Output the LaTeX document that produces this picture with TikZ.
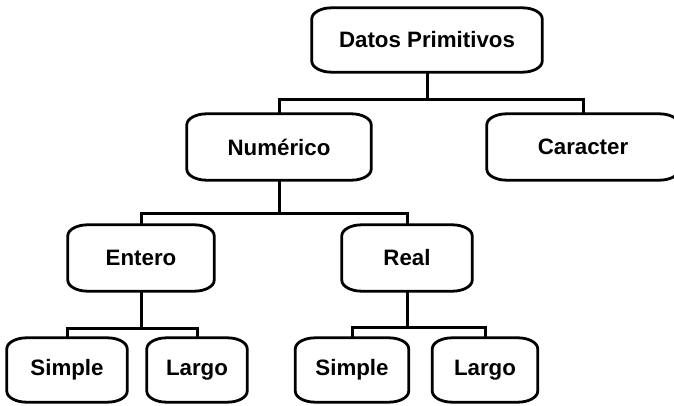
\documentclass[tikz,border=0pt]{standalone}
\usepackage{fontspec}
\setmainfont{Liberation Sans}
\newcommand\crx{20pt}
\newcommand\cry{11pt}
\newcommand\roundbox[1]{%
  \draw[boxline] ([xshift=\crx]#1.north west) -- ([xshift=-\crx]#1.north east)
    arc[start angle=90, end angle=0, x radius=\crx, y radius=\cry]
    -- ([yshift=\cry]#1.south east)
    arc[start angle=0, end angle=-90, x radius=\crx, y radius=\cry]
    -- ([xshift=\crx]#1.south west)
    arc[start angle=270, end angle=180, x radius=\crx, y radius=\cry]
    -- ([yshift=-\cry]#1.north west)
    arc[start angle=180, end angle=90, x radius=\crx, y radius=\cry] -- cycle;}
\tikzset{
  boxline/.style={line width=2.8pt, black},
  conn/.style={line width=3pt, black},
  lbl/.style={inner sep=0pt, font=\bfseries\fontsize{22.3}{24}\selectfont},
}
\begin{document}
\begin{tikzpicture}[x=1pt, y=-1pt]
\useasboundingbox (0,0) rectangle (674,406);
\clip (0,0) rectangle (674,406);
\fill[white] (0,0) rectangle (674,406);
\node[lbl, minimum width=230pt, minimum height=64pt] (dp) at (427,40) {Datos Primitivos};
\node[lbl, minimum width=184pt, minimum height=66pt] (num) at (279,147) {Numérico};
\node[lbl, minimum width=192pt, minimum height=66pt] (car) at (583,147) {Caracter};
\node[lbl, minimum width=146pt, minimum height=66pt] (ent) at (141,258) {Entero};
\node[lbl, minimum width=130pt, minimum height=66pt] (real) at (407,258) {Real};
\node[lbl, minimum width=120pt, minimum height=64pt] (s1) at (67,370) {Simple};
\node[lbl, minimum width=100pt, minimum height=64pt] (l1) at (197,370) {Largo};
\node[lbl, minimum width=113pt, minimum height=64pt] (s2) at (352,370) {Simple};
\node[lbl, minimum width=105pt, minimum height=64pt] (l2) at (485,370) {Largo};
\foreach \n in {dp,num,car,ent,real,s1,l1,s2,l2} {\roundbox{\n}}
\coordinate (j1) at (427,100);
\coordinate (j2) at (279,213);
\coordinate (j3) at (141,328);
\coordinate (j4) at (407,327);
\draw[conn] (dp.south) -- (j1);
\draw[conn] (j1) -| (num.north);
\draw[conn] (j1) -| (car.north);
\draw[conn] (num.south) -- (j2);
\draw[conn] (j2) -| (ent.north);
\draw[conn] (j2) -| (real.north);
\draw[conn] (ent.south) -- (j3);
\draw[conn] (j3) -| (s1.north);
\draw[conn] (j3) -| (l1.north);
\draw[conn] (real.south) -- (j4);
\draw[conn] (j4) -| (s2.north);
\draw[conn] (j4) -| (l2.north);
\end{tikzpicture}
\end{document}
